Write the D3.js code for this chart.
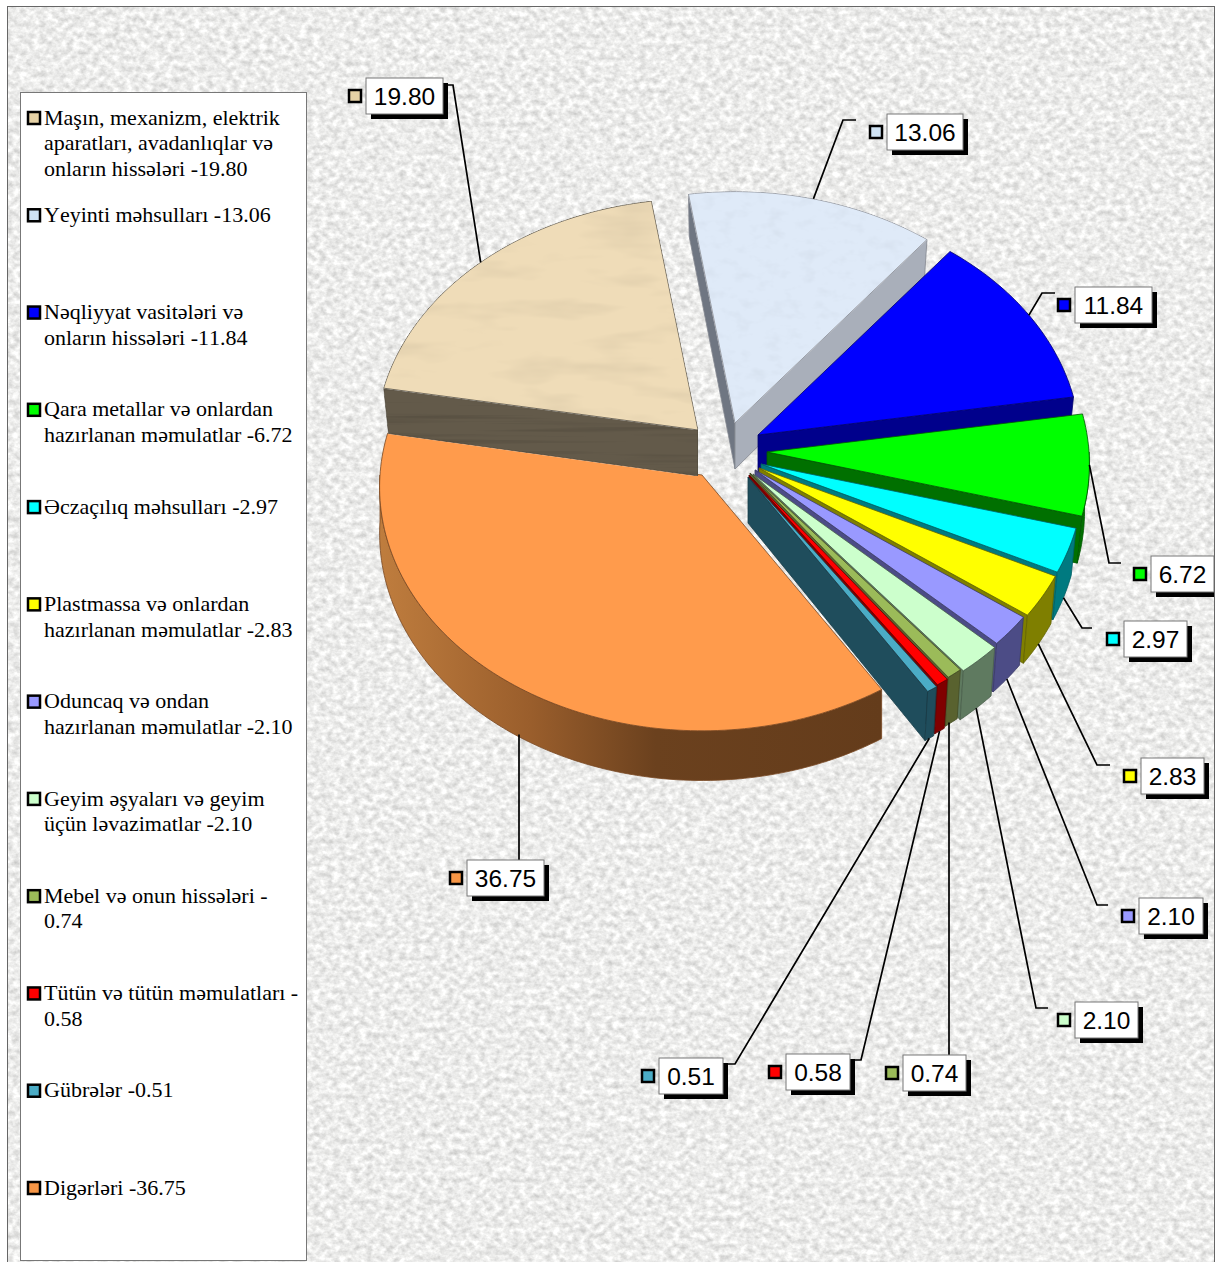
<!DOCTYPE html>
<html>
<head>
<meta charset="utf-8">
<script src="https://cdnjs.cloudflare.com/ajax/libs/d3/7.8.5/d3.min.js"></script>
<style>
html, body { margin: 0; padding: 0; background: #fff; }
svg { display: block; }
</style>
</head>
<body>
<div id="chart"></div>
<script>
// chart data, pie order (clockwise from the beige slice)
const categories = [
  "Maşın, mexanizm, elektrik aparatları, avadanlıqlar və onların hissələri",
  "Yeyinti məhsulları",
  "Nəqliyyat vasitələri və onların hissələri",
  "Qara metallar və onlardan hazırlanan məmulatlar",
  "Əczaçılıq məhsulları",
  "Plastmassa və onlardan hazırlanan məmulatlar",
  "Oduncaq və ondan hazırlanan məmulatlar",
  "Geyim əşyaları və geyim üçün ləvazimatlar",
  "Mebel və onun hissələri",
  "Tütün və tütün məmulatları",
  "Gübrələr",
  "Digərləri"
];
const values = [19.80, 13.06, 11.84, 6.72, 2.97, 2.83, 2.10, 2.10, 0.74, 0.58, 0.51, 36.75];

const topColors  = ["#efdcb8", "#dfeaf8", "#0000ff", "#00ff00", "#00ffff", "#ffff00", "#9999ff", "#ccffcc", "#9bbb59", "#ff0000", "#4bacc6", "#ff9b4c"];
const wallColors = ["#635a4a", "#a9afba", "#00008c", "#007000", "#007a80", "#7f7f00", "#4c4c86", "#5f7a60", "#59622f", "#800000", "#1f4d5c", "#9a5c2c"];
const swatchColors = ["#e6d2a6", "#cfe2f3", "#0000ff", "#00ff00", "#00ffff", "#ffff00", "#9999ff", "#ccffcc", "#9bbb59", "#ff0000", "#4bacc6", "#f79646"];

// layout: exploded position of each slice tip, label boxes, leader elbows
const apexes = [[698,430],[735,423],[758,435],[767,452],[761,464],[759,468],[755,470],[753,474],[750,473],[749,475],[748,477],[702,475]];
const boxes = [[366,78,77],[887,114,76],[1075,287,77],[1151,556,63],[1124,621,63],[1141,758,63],[1139,898,64],[1075,1002,63],[903,1055,63],[786,1054,64],[659,1058,64],[467,860,77]];
const elbows = [[[453,85],[447,85]],[[843,120],[856,120]],[[1042,293],[1055,293]],[[1109,563],[1121,563]],[[1082,628],[1092,628]],[[1097,765],[1110,765]],[[1097,905],[1108,905]],[[1036,1008],[1048,1008]],[[949,1055]],[[861,1060],[851,1060]],[[735,1064],[723,1064]],[[519,860]]];

const width = 1222, height = 1262;
const rx = 322, ry = 243, persp = 0.05, depth = 46;
const boxH = 36;

const svg = d3.select("#chart").append("svg").attr("width", width).attr("height", height);
const defs = svg.append("defs");

// paper-like background
const paper = defs.append("filter").attr("id", "paper").attr("x", 0).attr("y", 0).attr("width", 1).attr("height", 1)
  .attr("color-interpolation-filters", "sRGB");
paper.append("feTurbulence").attr("type", "fractalNoise").attr("baseFrequency", "0.15 0.18").attr("numOctaves", 3).attr("seed", 7);
paper.append("feColorMatrix").attr("type", "matrix")
  .attr("values", "0.32 0 0 0 0.765  0.32 0 0 0 0.765  0.32 0 0 0 0.76  0 0 0 0 1");

defs.append("clipPath").attr("id", "frameClip").append("rect")
  .attr("x", 7).attr("y", 6).attr("width", 1207).attr("height", 1256);

// grain for the two textured slices
function grain(id, freq, amount) {
  const f = defs.append("filter").attr("id", id).attr("x", 0).attr("y", 0).attr("width", 1).attr("height", 1)
    .attr("color-interpolation-filters", "sRGB");
  f.append("feTurbulence").attr("type", "fractalNoise").attr("baseFrequency", freq).attr("numOctaves", 3).attr("seed", 3).attr("result", "n");
  f.append("feColorMatrix").attr("in", "n").attr("type", "matrix")
    .attr("values", `${amount} 0 0 0 ${1 - amount / 2}  ${amount} 0 0 0 ${1 - amount / 2}  ${amount} 0 0 0 ${1 - amount / 2}  0 0 0 0 1`).attr("result", "g");
  f.append("feBlend").attr("in", "SourceGraphic").attr("in2", "g").attr("mode", "multiply").attr("result", "b");
  f.append("feComposite").attr("in", "b").attr("in2", "SourceAlpha").attr("operator", "in");
}
grain("wood", "0.012 0.05", 0.15);
grain("marble", "0.06 0.1", 0.08);
grain("woodside", "0.004 0.2", 0.35);

const orangeWall = defs.append("linearGradient").attr("id", "orangeWall");
orangeWall.append("stop").attr("offset", 0).attr("stop-color", "#bf7d3e");
orangeWall.append("stop").attr("offset", 0.3).attr("stop-color", "#9a5e2c");
orangeWall.append("stop").attr("offset", 0.55).attr("stop-color", "#6b411e");
orangeWall.append("stop").attr("offset", 1).attr("stop-color", "#643c1b");

// frame and background
svg.append("rect").attr("x", 7.5).attr("y", 6.5).attr("width", 1207).attr("height", 1256)
  .attr("filter", "url(#paper)");
svg.append("rect").attr("x", 7.5).attr("y", 6.5).attr("width", 1207).attr("height", 1256)
  .attr("fill", "none").attr("stroke", "#666");

// pie geometry
const pieAngles = d3.pie().sort(null).value(d => d)
  .startAngle(-80 * Math.PI / 180).endAngle(280 * Math.PI / 180)(values);

// perspective projection of a rim point; level 0 = top face, 1 = bottom face
function rim(i, a, level) {
  const u = Math.sin(a), v = -Math.cos(a), s = 1 / (1 - persp * v);
  const shrink = i === 11 ? 1 : 1 - 0.015 * level;
  return [apexes[i][0] + rx * u * s * shrink, apexes[i][1] + ry * v * s + depth * level * (1 + 0.08 * v)];
}
const lineGen = d3.line();

function arcPoints(i, a0, a1, level) {
  const n = Math.max(2, Math.ceil((a1 - a0) / 0.02));
  return d3.range(n + 1).map(k => rim(i, a0 + (a1 - a0) * k / n, level));
}

// a cut face is visible if moving straight down leaves the slice
function faceVisible(tip, apex, inner) {
  const dx = apex[0] - tip[0], dy = apex[1] - tip[1];
  const side = dx * (inner[1] - tip[1]) - dy * (inner[0] - tip[0]);
  return dx * side < 0;
}

const pie = svg.append("g").attr("class", "pie");
// orange goes first, the rest overlap each other clockwise
const drawOrder = [11, 0, 1, 2, 3, 4, 5, 6, 7, 8, 9, 10];

drawOrder.forEach(i => {
  const d = pieAngles[i];
  const apex = apexes[i];
  const apexLow = [apex[0], apex[1] + depth];
  const g = pie.append("g");
  const mid = rim(i, (d.startAngle + d.endAngle) / 2, 0);
  const wallFill = i === 11 ? "url(#orangeWall)" : wallColors[i];
  const edge = d3.color(wallColors[i]).darker(0.7);
  const wallFilter = i === 0 ? "url(#woodside)" : null;

  [d.startAngle, d.endAngle].forEach(a => {
    const tip = rim(i, a, 0);
    if (!faceVisible(tip, apex, [(mid[0] + apex[0]) / 2, (mid[1] + apex[1]) / 2])) return;
    // the left facing cut of the pale blue slice is in shade
    const shade = i === 1 && a === d.startAngle ? "#6f7682" : wallColors[i];
    g.append("path")
      .attr("d", lineGen([apex, tip, rim(i, a, 1), apexLow]) + "Z")
      .attr("fill", shade).attr("stroke", edge).attr("stroke-width", 0.8)
      .attr("filter", wallFilter);
  });

  // outer wall, only the part of the rim that faces the viewer
  const a0 = Math.max(d.startAngle, Math.PI / 2), a1 = Math.min(d.endAngle, 1.5 * Math.PI);
  if (a1 > a0) {
    const wall = arcPoints(i, a0, a1, 0).concat(arcPoints(i, a0, a1, 1).reverse());
    g.append("path").attr("d", lineGen(wall) + "Z")
      .attr("fill", wallFill).attr("stroke", edge).attr("stroke-width", 0.8);
  }

  const top = [apex].concat(arcPoints(i, d.startAngle, d.endAngle, 0));
  g.append("path").attr("d", lineGen(top) + "Z")
    .attr("fill", topColors[i]).attr("stroke", edge).attr("stroke-width", 0.8)
    .attr("filter", i === 0 ? "url(#wood)" : i === 1 ? "url(#marble)" : null);
});

// leader lines
pieAngles.forEach((d, i) => {
  const a = (d.startAngle + d.endAngle) / 2;
  const front = -Math.cos(a) > 0.1;
  const start = rim(i, a, front ? 1 : 0);
  // straight drop when the elbow sits almost under the rim point
  if (Math.abs(start[0] - elbows[i][0][0]) < 12) start[0] = elbows[i][0][0];
  svg.append("path").attr("d", lineGen([start].concat(elbows[i]))).attr("fill", "none")
    .attr("stroke", "#000").attr("stroke-width", 1.7);
});

// value labels
const labels = svg.append("g").attr("class", "labels").attr("clip-path", "url(#frameClip)");
values.forEach((v, i) => {
  const [x, y, w] = boxes[i];
  labels.append("rect").attr("x", x + 5).attr("y", y + 5).attr("width", w).attr("height", boxH).attr("fill", "#000");
  labels.append("rect").attr("x", x).attr("y", y).attr("width", w).attr("height", boxH)
    .attr("fill", "#fff").attr("stroke", "#777");
  labels.append("text").attr("x", x + w / 2).attr("y", y + 26.5)
    .attr("text-anchor", "middle").attr("font-family", "'Liberation Sans', Arial, sans-serif").attr("font-size", 24.5)
    .text(v.toFixed(2));
  labels.append("rect").attr("x", x - 17).attr("y", y + boxH / 2 - 6).attr("width", 12).attr("height", 12)
    .attr("fill", swatchColors[i]).attr("stroke", "#000").attr("stroke-width", 2.5);
});

// legend
svg.append("rect").attr("x", 20.5).attr("y", 92.5).attr("width", 286).attr("height", 1168)
  .attr("fill", "#fff").attr("stroke", "#777");

const legendY = d3.scalePoint().domain(d3.range(categories.length)).range([118, 1188]);
const legendWidth = 257;
const legend = svg.append("g").attr("class", "legend")
  .attr("font-family", "'Liberation Serif', 'Times New Roman', serif").attr("font-size", 22)
  .style("font-kerning", "none");

categories.forEach((name, i) => {
  const y = legendY(i);
  legend.append("rect").attr("x", 28).attr("y", y - 6).attr("width", 12).attr("height", 12)
    .attr("fill", swatchColors[i]).attr("stroke", "#000").attr("stroke-width", 2.5);
  const text = legend.append("text").attr("x", 44).attr("y", y + 6.6);
  // wrap at spaces and after the dash, like the original
  const tokens = (name + " -" + values[i].toFixed(2)).split(/(?<= )|(?<=-)/);
  let line = "";
  let current = text.append("tspan").attr("x", 44);
  tokens.forEach(w => {
    current.text((line + w).trimEnd());
    if (current.node().getComputedTextLength() > legendWidth && line) {
      current.text(line.trimEnd());
      current = text.append("tspan").attr("x", 44).attr("dy", 25.6).text(w);
      line = w;
    } else {
      line += w;
    }
  });
});
</script>
</body>
</html>
